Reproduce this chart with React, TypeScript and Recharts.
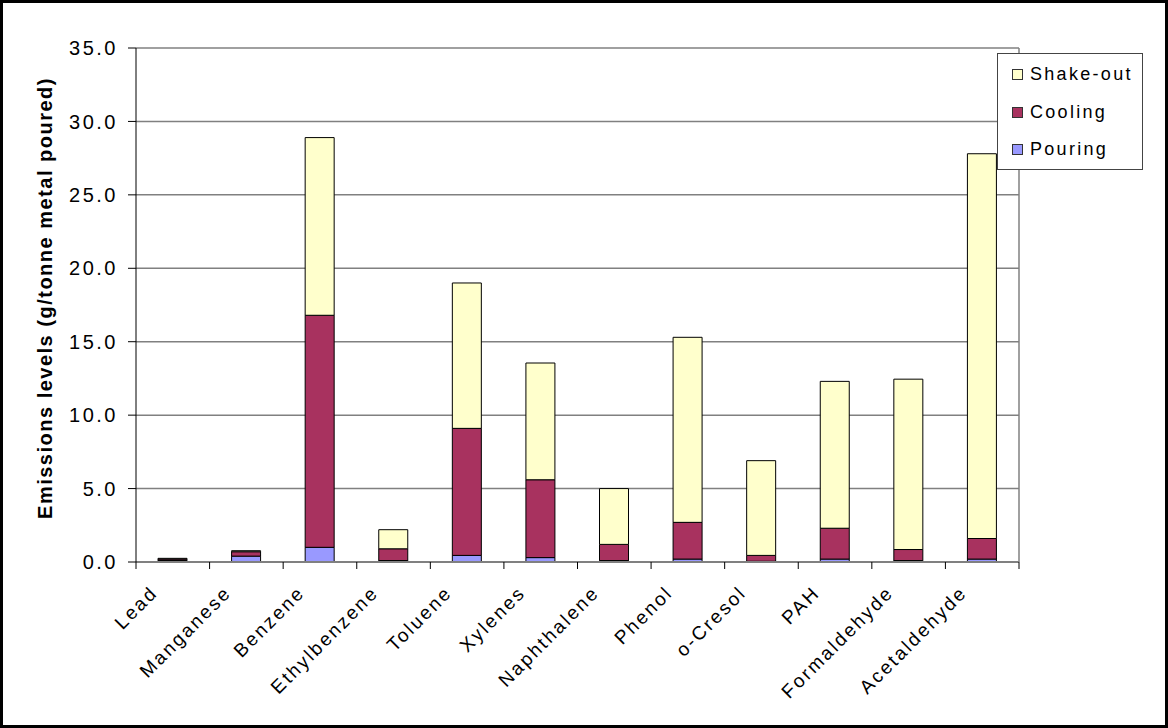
import { BarChart, Bar, XAxis, YAxis, CartesianGrid, Legend } from "recharts";

const categories = ["Lead", "Manganese", "Benzene", "Ethylbenzene", "Toluene", "Xylenes", "Naphthalene", "Phenol", "o-Cresol", "PAH", "Formaldehyde", "Acetaldehyde"];
const pouring = [0.1, 0.4, 1.0, 0.1, 0.45, 0.3, 0.1, 0.2, 0.05, 0.2, 0.1, 0.2];
const cooling = [0.1, 0.3, 15.8, 0.8, 8.65, 5.3, 1.1, 2.5, 0.4, 2.1, 0.75, 1.4];
const shakeOut = [0.05, 0.07, 12.1, 1.3, 9.9, 7.95, 3.8, 12.6, 6.45, 10.0, 11.6, 26.2];
const yTicks = [0, 5, 10, 15, 20, 25, 30, 35];

const series = [
  { key: "shakeOut", name: "Shake-out", color: "#FFFFCC" },
  { key: "cooling", name: "Cooling", color: "#A8325F" },
  { key: "pouring", name: "Pouring", color: "#9999FF" },
];

const data = categories.map((c, i) => ({ name: c, pouring: pouring[i], cooling: cooling[i], shakeOut: shakeOut[i] }));

const FONT = "'Liberation Sans', Arial, sans-serif";

// label + tick marks sitting on the category boundaries (Excel style)
function CatTick({ x, y, payload, index, visibleTicksCount }: any) {
  const half = payload && payload.offset ? payload.offset : 36.8;
  const last = index === (visibleTicksCount ?? categories.length) - 1;
  return (
    <g>
      <line x1={x - half} x2={x - half} y1={y} y2={y + 7} stroke="#000" />
      {last && <line x1={x + half} x2={x + half} y1={y} y2={y + 7} stroke="#000" />}
      <g transform={`translate(${x - 14},${y + 32}) rotate(-45)`}>
        <text x={0} y={0} textAnchor="end" fontSize={19} letterSpacing={2.3} fill="#000" fontFamily={FONT}>
          {payload.value}
        </text>
      </g>
    </g>
  );
}

function LegendBox() {
  return (
    <div style={{ border: "1px solid #444", background: "#fff", width: 146, height: 117, boxSizing: "border-box", padding: "2px 0 0 14px", fontFamily: FONT }}>
      {series.map((s) => (
        <div key={s.key} style={{ display: "flex", alignItems: "center", height: 37.5 }}>
          <span style={{ width: 11, height: 11, background: s.color, border: "1px solid #333", marginRight: 7, boxSizing: "border-box" }} />
          <span style={{ fontSize: 18, letterSpacing: 2.3, color: "#000" }}>{s.name}</span>
        </div>
      ))}
    </div>
  );
}

export default function App() {
  return (
    <div style={{ position: "relative", width: 1168, height: 728, background: "#fff" }}>
      <style>{`body{margin:0}`}</style>
      <BarChart width={1168} height={728} data={data} margin={{ top: 48, right: 148, bottom: 0, left: 0 }} barSize={29}>
        <CartesianGrid vertical={false} stroke="#808080" strokeWidth={1.5} />
        <XAxis dataKey="name" height={166} tickLine={false} tickSize={0} tickMargin={0} axisLine={{ stroke: "#808080", strokeWidth: 2 }} tick={<CatTick />} interval={0} />
        <YAxis domain={[0, 35]} ticks={yTicks} width={136} tickFormatter={(v) => v.toFixed(1)} tickSize={8} tickMargin={10} axisLine={{ stroke: "#000" }} tickLine={{ stroke: "#000" }} tick={{ fontSize: 20, fill: "#000", fontFamily: FONT, letterSpacing: 2.5 }}
          label={{
            content: () => (
              <text transform="translate(52,298) rotate(-90)" textAnchor="middle" fontSize={20} fontWeight="bold" letterSpacing={1.5} fontFamily={FONT} fill="#000">
                Emissions levels (g/tonne metal poured)
              </text>
            ),
          }}
        />
        <YAxis yAxisId="r" orientation="right" domain={[0, 35]} width={1} tick={false} tickLine={false} axisLine={{ stroke: "#808080", strokeWidth: 1.5 }} />
        <Legend layout="vertical" align="center" verticalAlign="middle" content={() => <LegendBox />} wrapperStyle={{ position: "absolute", left: 997, top: 53, width: 146, height: 117 }} />
        <Bar dataKey="pouring" name="Pouring" stackId="a" fill="#9999FF" stroke="#000" strokeWidth={1} isAnimationActive={false} />
        <Bar dataKey="cooling" name="Cooling" stackId="a" fill="#A8325F" stroke="#000" strokeWidth={1} isAnimationActive={false} />
        <Bar dataKey="shakeOut" name="Shake-out" stackId="a" fill="#FFFFCC" stroke="#000" strokeWidth={1} isAnimationActive={false} />
      </BarChart>
      <div style={{ position: "absolute", inset: 0, border: "3px solid #000", pointerEvents: "none" }} />
    </div>
  );
}
